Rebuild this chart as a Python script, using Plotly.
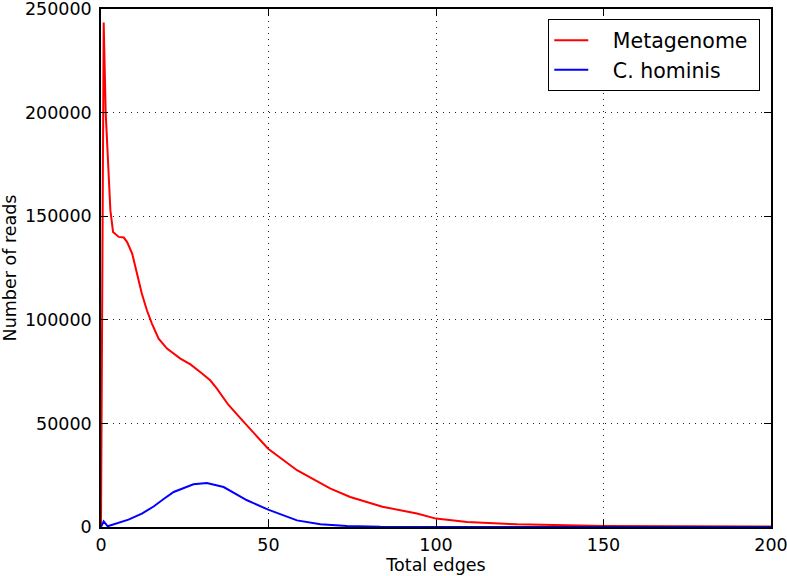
import plotly.graph_objects as go

# red curve: Metagenome
meta_x = [0, 0.8, 1.4, 2.8, 3.6, 5.3, 6.8, 7.8, 9.3, 10.7, 12.2, 13.7, 15.2,
          17.2, 19.7, 23.7, 26.7, 29.6, 32.6, 34.6, 38.0, 42.6, 49.9, 58.5,
          68.5, 74.4, 84, 94.3, 100, 109.3, 124.2, 150, 174, 200]
meta_y = [0, 243500, 200000, 152800, 142400, 140000, 139700, 137500, 132000,
          122300, 112600, 104600, 98200, 90900, 86100, 81300, 78500, 74800,
          70800, 66800, 59000, 50700, 37800, 27400, 18500, 14500, 9800, 6470,
          4050, 2400, 1300, 500, 340, 200]

# blue curve: C. hominis
hom_x = [0, 0.8, 2.0, 4.3, 8.2, 12.2, 15.7, 18.7, 21.7, 27.6, 31.6, 36.6, 43.6,
         49.9, 58.5, 65.5, 73.4, 83.4, 100, 150, 200]
hom_y = [0, 2750, 350, 1640, 3570, 6470, 9900, 13500, 16900, 20600, 21200,
         19300, 12900, 8400, 3200, 1300, 500, 100, 0, 0, 0]

x_ticks = [0, 50, 100, 150, 200]
y_ticks = [0, 50000, 100000, 150000, 200000, 250000]

font = "DejaVu Sans"
nb = "\u00a0"  # non-breaking spaces to pad the legend text

fig = go.Figure()
fig.add_trace(go.Scatter(x=meta_x, y=meta_y, mode="lines", name=nb * 3 + "Metagenome" + nb,
                         line={"color": "#ff0000", "width": 2}, legendgroup="a"))
fig.add_trace(go.Scatter(x=hom_x, y=hom_y, mode="lines", name=nb * 3 + "C. hominis",
                         line={"color": "#0000ff", "width": 2}, legendgroup="b"))

axis_common = dict(showline=True, linecolor="black", linewidth=1.5, mirror="ticks",
                   ticks="inside", ticklen=7, tickcolor="black", tickwidth=1,
                   showgrid=True, gridcolor="#222222", gridwidth=1, griddash="1px,5px",
                   zeroline=False, automargin=False, ticklabeloverflow="allow",
                   tickfont={"size": 17.5, "color": "black", "family": font})

fig.update_xaxes(range=[0, 200], tickvals=x_ticks, ticklabelstandoff=1,
                 title={"text": "Total edges", "font": {"size": 17.5, "color": "black"}, "standoff": 4},
                 **axis_common)
fig.update_yaxes(range=[0, 250000], tickvals=y_ticks, tickformat="d", ticklabelstandoff=4,
                 title={"text": "Number of reads", "font": {"size": 17.5, "color": "black"}, "standoff": 8},
                 **axis_common)

fig.update_layout(
    width=787, height=576,
    margin={"l": 101, "r": 16, "t": 9, "b": 49},
    paper_bgcolor="white", plot_bgcolor="white",
    font={"family": font, "size": 17.5, "color": "black"},
    legend={"x": 0.984, "y": 0.980, "xanchor": "right", "yanchor": "top",
            "bordercolor": "black", "borderwidth": 1, "bgcolor": "white",
            "font": {"size": 20.5}, "tracegroupgap": 0, "traceorder": "grouped",
            "itemwidth": 34},
)

fig.write_html("out.html", config={"displayModeBar": False},
               post_script="document.body.style.margin='0';")
